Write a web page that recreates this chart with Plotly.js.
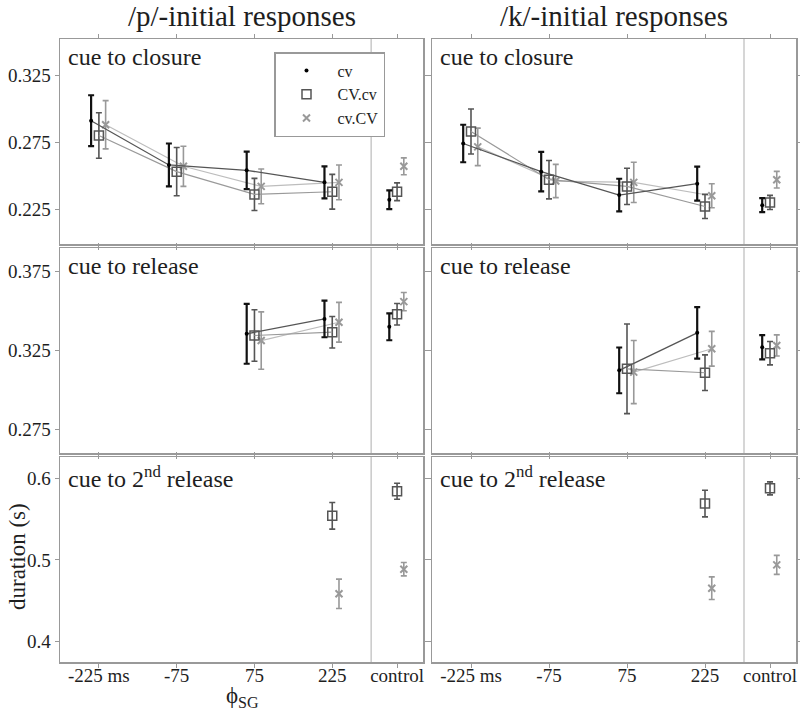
<!DOCTYPE html>
<html><head><meta charset="utf-8">
<script src="https://cdn.plot.ly/plotly-3.0.1.min.js"></script>
<style>html,body{margin:0;padding:0;background:#fff}#chart{width:800px;height:715px}</style>
</head><body><div id="chart"></div>
<script>
// ---------- data ----------
const phiSG = [-225, -75, 75, 225];
const controlPos = 350;
const xTickVals = [-225, -75, 75, 225, 350];
const xTickLabels = ['-225 ms', '-75', '75', '225', 'control'];
const seriesNames = ['cv', 'CV.cv', 'cv.CV'];
const columnTitles = ['/p/-initial responses', '/k/-initial responses'];
const rowLabels = ['cue to closure', 'cue to release', 'cue to 2<sup>nd</sup> release'];

// each array: 4 φSG conditions (-225, -75, 75, 225) followed by control
const pClosureCv      = [0.291, 0.258, 0.254, 0.245, 0.232];
const pClosureCvErr   = [0.019, 0.016, 0.014, 0.012, 0.007];
const pClosureCVcv    = [0.280, 0.253, 0.236, 0.238, 0.238];
const pClosureCVcvErr = [0.017, 0.018, 0.012, 0.013, 0.0066];
const pClosureCvCV    = [0.288, 0.257, 0.242, 0.245, 0.257];
const pClosureCvCVErr = [0.018, 0.015, 0.013, 0.013, 0.0063];

const kClosureCv      = [0.274, 0.253, 0.2355, 0.244, 0.228];
const kClosureCvErr   = [0.014, 0.0147, 0.0122, 0.0127, 0.0052];
const kClosureCVcv    = [0.283, 0.247, 0.242, 0.227, 0.230];
const kClosureCVcvErr = [0.0168, 0.0143, 0.0135, 0.009, 0.0053];
const kClosureCvCV    = [0.2715, 0.246, 0.245, 0.235, 0.247];
const kClosureCvCVErr = [0.014, 0.0124, 0.015, 0.009, 0.0062];

const pReleaseCv      = [null, null, 0.3356, 0.345, 0.340];
const pReleaseCvErr   = [null, null, 0.019, 0.0116, 0.0085];
const pReleaseCVcv    = [null, null, 0.3345, 0.3366, 0.348];
const pReleaseCVcvErr = [null, null, 0.0163, 0.010, 0.0068];
const pReleaseCvCV    = [null, null, 0.3313, 0.3429, 0.356];
const pReleaseCvCVErr = [null, null, 0.0182, 0.0126, 0.0058];

const kReleaseCv      = [null, null, 0.3124, 0.3362, 0.3271];
const kReleaseCvErr   = [null, null, 0.0145, 0.0163, 0.0077];
const kReleaseCVcv    = [null, null, 0.3134, 0.3109, 0.3233];
const kReleaseCVcvErr = [null, null, 0.0284, 0.0113, 0.0074];
const kReleaseCvCV    = [null, null, 0.3113, 0.3261, 0.3282];
const kReleaseCvCVErr = [null, null, 0.020, 0.011, 0.0067];

const pRelease2Cv      = [null, null, null, null, null];
const pRelease2CvErr   = [null, null, null, null, null];
const pRelease2CVcv    = [null, null, null, 0.554, 0.584];
const pRelease2CVcvErr = [null, null, null, 0.0163, 0.0098];
const pRelease2CvCV    = [null, null, null, 0.4585, 0.4886];
const pRelease2CvCVErr = [null, null, null, 0.018, 0.0082];

const kRelease2Cv      = [null, null, null, null, null];
const kRelease2CvErr   = [null, null, null, null, null];
const kRelease2CVcv    = [null, null, null, 0.569, 0.5876];
const kRelease2CVcvErr = [null, null, null, 0.0163, 0.008];
const kRelease2CvCV    = [null, null, null, 0.4654, 0.4939];
const kRelease2CvCVErr = [null, null, null, 0.0138, 0.0116];

const yRanges = [[0.199, 0.352], [0.260, 0.390], [0.375, 0.626]];
const yTicks = [[0.225, 0.275, 0.325], [0.275, 0.325, 0.375], [0.4, 0.5, 0.6]];

// ---------- build ----------
const panels = [
  [[[pClosureCv, pClosureCvErr], [pClosureCVcv, pClosureCVcvErr], [pClosureCvCV, pClosureCvCVErr]],
   [[kClosureCv, kClosureCvErr], [kClosureCVcv, kClosureCVcvErr], [kClosureCvCV, kClosureCvCVErr]]],
  [[[pReleaseCv, pReleaseCvErr], [pReleaseCVcv, pReleaseCVcvErr], [pReleaseCvCV, pReleaseCvCVErr]],
   [[kReleaseCv, kReleaseCvErr], [kReleaseCVcv, kReleaseCVcvErr], [kReleaseCvCV, kReleaseCvCVErr]]],
  [[[pRelease2Cv, pRelease2CvErr], [pRelease2CVcv, pRelease2CVcvErr], [pRelease2CvCV, pRelease2CvCVErr]],
   [[kRelease2Cv, kRelease2CvErr], [kRelease2CVcv, kRelease2CVcvErr], [kRelease2CvCV, kRelease2CvCVErr]]]
];

const W = 800, H = 715;
const colPx = [[60, 423], [432, 796]];
const rowPx = [[39, 244], [248, 453], [457, 662]];
const offsets = [-15, 0, 13];
const FONT = 'Liberation Serif, DejaVu Serif, serif';
const TXT = '#1e1e1e';

const styles = [
  {marker: {symbol: 'circle', size: 4, color: '#000'}, err: '#111', thick: 2.2, line: '#555', lw: 1.3},
  {marker: {symbol: 'square-open', size: 9, color: '#555', line: {width: 1.5, color: '#555'}}, err: '#555', thick: 1.6, line: '#9a9a9a', lw: 1.2},
  {marker: {symbol: 'x-thin-open', size: 7, color: '#999', line: {width: 2, color: '#999'}}, err: '#999', thick: 1.6, line: '#bdbdbd', lw: 1.2}
];

const traces = [];
const layout = {
  width: W, height: H, margin: {l: 0, r: 0, t: 0, b: 0},
  paper_bgcolor: '#fff', plot_bgcolor: '#fff',
  showlegend: true,
  legend: {x: 274 / W, y: 1 - 52 / H, xanchor: 'left', yanchor: 'top',
           bgcolor: '#fff', bordercolor: '#999', borderwidth: 1.5,
           font: {family: FONT, size: 16, color: TXT}, itemwidth: 52, tracegroupgap: 0},
  shapes: [], annotations: []
};

const drawOrder = [2, 1, 0];
for (let r = 0; r < 3; r++) {
  for (let c = 0; c < 2; c++) {
    const idx = r * 2 + c + 1;
    const sfx = idx > 1 ? String(idx) : '';
    const xa = 'x' + sfx, ya = 'y' + sfx;
    layout['xaxis' + sfx] = {
      domain: [colPx[c][0] / W, colPx[c][1] / W], anchor: ya,
      range: [-300, 400], tickvals: xTickVals, ticktext: xTickLabels,
      showticklabels: r === 2, ticks: 'outside', ticklen: 4, tickcolor: '#999',
      ticklabelstandoff: -8,
      showline: true, linecolor: '#999', linewidth: 1.5, mirror: 'ticks',
      showgrid: false, zeroline: false, fixedrange: true,
      tickfont: {family: FONT, size: 19, color: TXT}
    };
    layout['yaxis' + sfx] = {
      domain: [1 - rowPx[r][1] / H, 1 - rowPx[r][0] / H], anchor: xa,
      range: yRanges[r], tickvals: yTicks[r],
      showticklabels: c === 0, ticks: 'outside', ticklen: 4, tickcolor: '#999',
      showline: true, linecolor: '#999', linewidth: 1.5, mirror: 'ticks',
      showgrid: false, zeroline: false, fixedrange: true,
      tickfont: {family: FONT, size: 19, color: TXT}
    };
    layout.shapes.push({type: 'line', xref: xa, yref: ya + ' domain', x0: 300, x1: 300, y0: 0, y1: 1,
                        line: {color: '#bbb', width: 1.2}, layer: 'below'});
    layout.annotations.push({xref: 'paper', yref: 'paper', x: (colPx[c][0] + 6) / W, y: 1 - (rowPx[r][0] + 3) / H,
                             xanchor: 'left', yanchor: 'top', showarrow: false, text: rowLabels[r],
                             font: {family: FONT, size: 24, color: TXT}});
    for (const s of drawOrder) {
      const [mean, err] = panels[r][c][s];
      const st = styles[s];
      if (mean.every(v => v === null)) continue;
      traces.push({
        type: 'scatter', mode: 'lines+markers', xaxis: xa, yaxis: ya, showlegend: false,
        x: phiSG.map(v => v + offsets[s]), y: mean.slice(0, 4), connectgaps: false,
        line: {color: st.line, width: st.lw}, marker: st.marker,
        error_y: {type: 'data', array: err.slice(0, 4), color: st.err, thickness: st.thick, width: 3},
        hoverinfo: 'skip'
      });
      traces.push({
        type: 'scatter', mode: 'markers', xaxis: xa, yaxis: ya, showlegend: false,
        x: [controlPos + offsets[s]], y: [mean[4]], marker: st.marker,
        error_y: {type: 'data', array: [err[4]], color: st.err, thickness: st.thick, width: 3},
        hoverinfo: 'skip'
      });
    }
  }
}
// legend entries (markers only)
for (let s = 0; s < 3; s++) {
  traces.push({type: 'scatter', mode: 'markers', x: [null], y: [null], xaxis: 'x', yaxis: 'y',
               name: seriesNames[s], marker: styles[s].marker, showlegend: true});
}

// column titles
for (let c = 0; c < 2; c++) {
  layout.annotations.push({xref: 'paper', yref: 'paper', x: (colPx[c][0] + colPx[c][1]) / 2 / W, y: 1 - 16 / H,
                           xanchor: 'center', yanchor: 'middle', showarrow: false, text: columnTitles[c],
                           font: {family: FONT, size: 29, color: TXT}});
}
// axis titles
layout.annotations.push({xref: 'paper', yref: 'paper', x: 242 / W, y: 1 - 697 / H, xanchor: 'center', yanchor: 'middle',
                         showarrow: false, text: 'ϕ<sub>SG</sub>', font: {family: FONT, size: 23, color: TXT}});
layout.annotations.push({xref: 'paper', yref: 'paper', x: 17 / W, y: 1 - 557 / H, xanchor: 'center', yanchor: 'middle',
                         textangle: -90, showarrow: false, text: 'duration (s)', font: {family: FONT, size: 23, color: TXT}});

Plotly.newPlot('chart', traces, layout, {displayModeBar: false, staticPlot: true});
</script>
</body></html>
